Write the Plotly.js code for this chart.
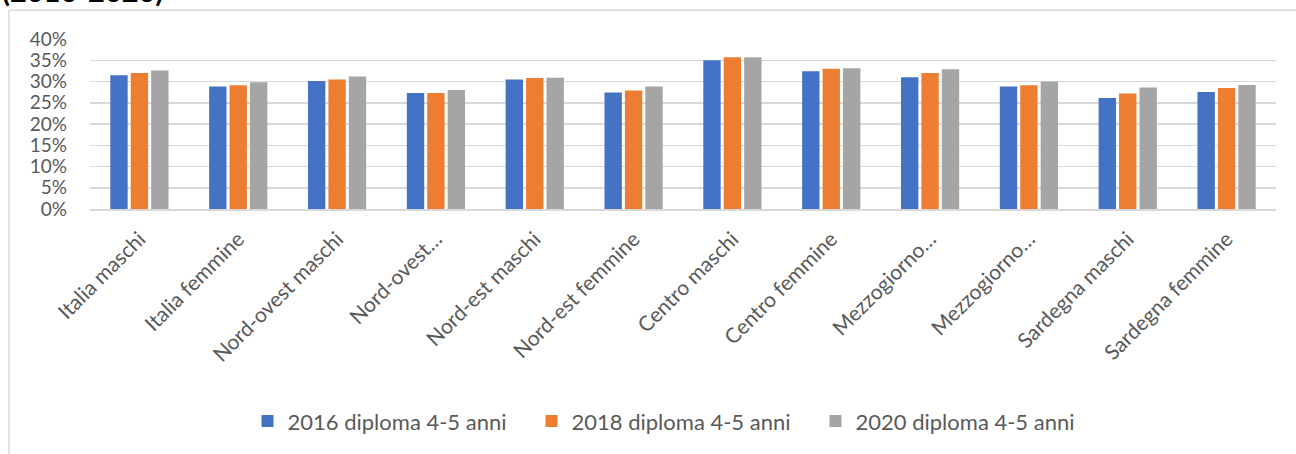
<!DOCTYPE html>
<html>
<head>
<meta charset="utf-8">
<script src="https://cdn.plot.ly/plotly-3.0.1.min.js"></script>
<style>html,body{margin:0;padding:0;background:#fff;}#chart{width:1296px;height:454px;}</style>
</head>
<body>
<div id="chart"></div>
<script>
const categories = ["Italia maschi", "Italia femmine", "Nord-ovest maschi", "Nord-ovest…", "Nord-est maschi", "Nord-est femmine", "Centro maschi", "Centro femmine", "Mezzogiorno…", "Mezzogiorno…", "Sardegna maschi", "Sardegna femmine"];
const categoryIds = ["Italia maschi", "Italia femmine", "Nord-ovest maschi", "Nord-ovest femmine", "Nord-est maschi", "Nord-est femmine", "Centro maschi", "Centro femmine", "Mezzogiorno maschi", "Mezzogiorno femmine", "Sardegna maschi", "Sardegna femmine"];
const seriesNames = ["2016 diploma 4-5 anni", "2018 diploma 4-5 anni", "2020 diploma 4-5 anni"];
const values2016 = [0.315, 0.288, 0.301, 0.273, 0.305, 0.274, 0.350, 0.324, 0.310, 0.288, 0.261, 0.275];
const values2018 = [0.320, 0.291, 0.305, 0.273, 0.308, 0.279, 0.357, 0.330, 0.320, 0.291, 0.272, 0.285];
const values2020 = [0.326, 0.298, 0.312, 0.280, 0.309, 0.288, 0.357, 0.331, 0.329, 0.300, 0.286, 0.292];
const colors = ["#4472C4", "#ED7D31", "#A5A5A5"];
const titleText = "(2016-2020)";

const allValues = [values2016, values2018, values2020];
const traces = allValues.map((v, i) => ({
  type: "bar",
  name: seriesNames[i],
  x: categoryIds,
  y: v,
  marker: {color: colors[i], line: {width: 0}},
  hoverinfo: "x+y+name"
}));

const font = "Lato, 'Open Sans', sans-serif";
const layout = {
  width: 1296, height: 454,
  margin: {l: 90, r: 20, t: 38.5, b: 244.5, pad: 0},
  paper_bgcolor: "#ffffff", plot_bgcolor: "#ffffff",
  barmode: "group", bargap: 0.38, bargroupgap: 0.15,
  showlegend: true,
  legend: {orientation: "h", x: 0.492, xanchor: "center", y: -1.248, yanchor: "middle",
           font: {family: font, size: 22, color: "#595959"}, itemwidth: 30, traceorder: "normal",
           entrywidth: 239, entrywidthmode: "pixels"},
  xaxis: {
    type: "category", tickmode: "array", tickvals: categoryIds, ticktext: categories,
    tickangle: -45, tickfont: {family: font, size: 21, color: "#595959"},
    showgrid: false, showline: true, linecolor: "#D9D9D9", linewidth: 1.5, ticks: "",
    ticklabelstandoff: 8, automargin: false
  },
  yaxis: {
    range: [0, 0.4], dtick: 0.05, tick0: 0, tickformat: ".0%",
    tickfont: {family: font, size: 19, color: "#595959"},
    showgrid: true, gridcolor: "#D9D9D9", gridwidth: 1.5, zeroline: false,
    showline: false, ticks: "", ticklabelstandoff: 22, automargin: false
  },
  annotations: [{
    text: "<b>" + titleText + "</b>", xref: "paper", yref: "paper",
    x: -0.0759, xanchor: "left", y: 1.172, yanchor: "bottom", showarrow: false,
    font: {family: "Lato, sans-serif", size: 29, color: "#000000"}
  }],
  shapes: [
    {type: "line", xref: "paper", yref: "paper", x0: -0.0683, x1: 1.02, y0: 1.1696, y1: 1.1696, line: {color: "#D9D9D9", width: 1.5}},
    {type: "line", xref: "paper", yref: "paper", x0: -0.0683, x1: -0.0683, y0: 1.1696, y1: -1.45, line: {color: "#D9D9D9", width: 1.5}}
  ]
};

Plotly.newPlot("chart", traces, layout, {displayModeBar: false, staticPlot: true});
</script>
</body>
</html>
